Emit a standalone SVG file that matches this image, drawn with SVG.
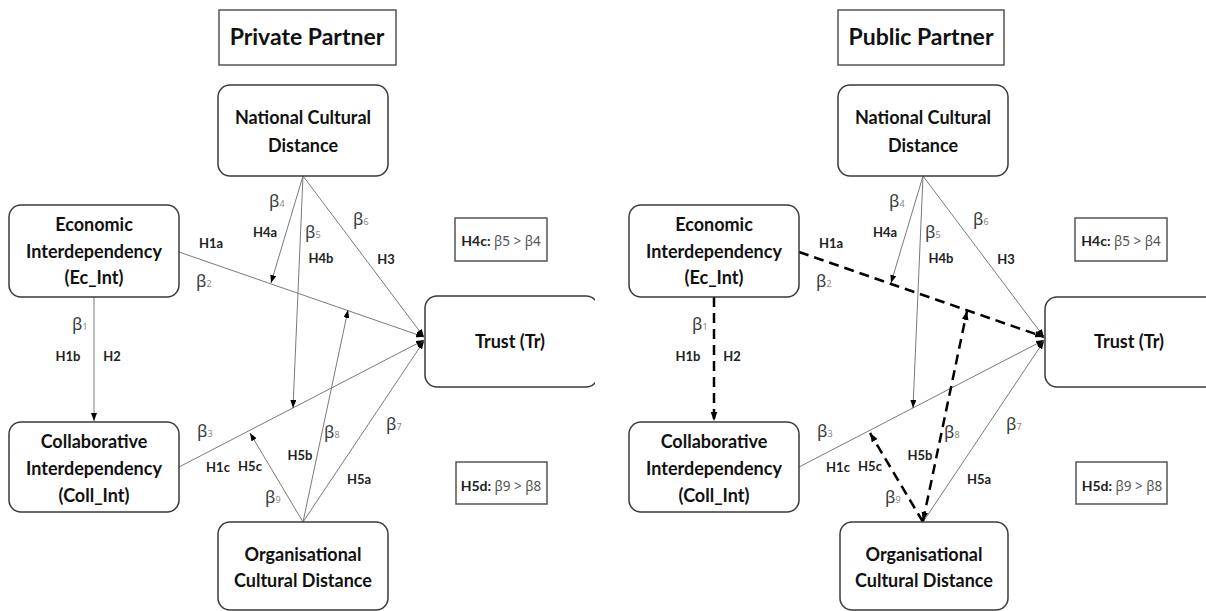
<svg xmlns="http://www.w3.org/2000/svg" width="1206" height="611" viewBox="0 0 1206 611">
<style>
.n{fill:#fff;stroke:#3a3a3a;stroke-width:1.5}
.sq{fill:#fff;stroke:#555;stroke-width:1.5}
.t{font-family:Lato,"Open Sans",sans-serif;font-weight:700;font-size:18px;fill:#111;text-anchor:middle}
.ti{font-family:Lato,"Open Sans",sans-serif;font-weight:700;font-size:23px;fill:#111;text-anchor:middle}
.h{font-family:Lato,"Open Sans",sans-serif;font-weight:700;font-size:13px;fill:#222;text-anchor:middle}
.b{font-family:"Noto Sans","DejaVu Sans",sans-serif;font-size:17px;fill:#3a3a3a}
.s{font-size:9px;fill:#888}
.c{font-family:Lato,"Open Sans",sans-serif;font-weight:700;font-size:14px;fill:#222;text-anchor:middle}
.cg{font-family:"Noto Sans","DejaVu Sans",sans-serif;font-weight:400;font-size:13.5px;fill:#555}
.thin{stroke:#7a7a7a;stroke-width:1;fill:none;marker-end:url(#a)}
.dash{stroke:#000;stroke-width:2.5;stroke-dasharray:10 6;fill:none;marker-end:url(#ad)}
</style>
<defs>
<marker id="a" viewBox="0 0 8 6" refX="8" refY="3" markerWidth="8" markerHeight="6" markerUnits="userSpaceOnUse" orient="auto"><path d="M0,0L8,3L0,6z" fill="#000"/></marker>
<marker id="ad" viewBox="0 0 8 6" refX="8" refY="3" markerWidth="9" markerHeight="7" markerUnits="userSpaceOnUse" orient="auto-start-reverse"><path d="M0,0L8,3L0,6z" fill="#000"/></marker>
<clipPath id="clipL"><rect x="0" y="0" width="595" height="611"/></clipPath>
</defs>
<rect width="1206" height="611" fill="#fff"/>

<g id="connectors">
<line class="thin" x1="94" y1="297" x2="94" y2="421"/>
<line class="thin" x1="179" y1="252" x2="424" y2="337"/>
<line class="thin" x1="179" y1="467" x2="424" y2="340"/>
<line class="thin" x1="303" y1="176" x2="271" y2="283"/>
<line class="thin" x1="303" y1="176" x2="293" y2="408"/>
<line class="thin" x1="303" y1="176" x2="424" y2="337"/>
<line class="thin" x1="303" y1="522" x2="424" y2="341"/>
<line class="thin" x1="303" y1="522" x2="348" y2="310"/>
<line class="thin" x1="303" y1="522" x2="250" y2="433"/>

<line class="dash" x1="714" y1="297" x2="714" y2="421"/>
<line class="dash" x1="799" y1="252" x2="1044" y2="337"/>
<line class="thin" x1="799" y1="467" x2="1044" y2="340"/>
<line class="thin" x1="923" y1="176" x2="891" y2="283"/>
<line class="thin" x1="923" y1="176" x2="913" y2="408"/>
<line class="thin" x1="923" y1="176" x2="1044" y2="337"/>
<line class="thin" x1="923" y1="522" x2="1044" y2="341"/>
<line class="dash" x1="923" y1="521" x2="967" y2="311" style="marker-start:url(#ad)"/>
<line class="dash" x1="923" y1="522" x2="870" y2="433"/>
</g>

<g id="labels">
<text class="h" x="211" y="248">H1a</text>
<text class="b" x="196" y="287">β<tspan class="s">2</tspan></text>
<text class="b" x="72" y="330">β<tspan class="s">1</tspan></text>
<text class="h" x="68" y="361">H1b</text>
<text class="h" x="112" y="361">H2</text>
<text class="b" x="269" y="207">β<tspan class="s">4</tspan></text>
<text class="h" x="265" y="237">H4a</text>
<text class="b" x="305" y="238">β<tspan class="s">5</tspan></text>
<text class="h" x="321" y="263">H4b</text>
<text class="b" x="353" y="225">β<tspan class="s">6</tspan></text>
<text class="h" x="386" y="264">H3</text>
<text class="b" x="197" y="437">β<tspan class="s">3</tspan></text>
<text class="h" x="218" y="472">H1c</text>
<text class="h" x="250" y="471">H5c</text>
<text class="b" x="265" y="503">β<tspan class="s">9</tspan></text>
<text class="h" x="300" y="460">H5b</text>
<text class="b" x="324" y="438">β<tspan class="s">8</tspan></text>
<text class="h" x="359" y="484">H5a</text>
<text class="b" x="386" y="430">β<tspan class="s">7</tspan></text>

<text class="h" x="831" y="248">H1a</text>
<text class="b" x="816" y="287">β<tspan class="s">2</tspan></text>
<text class="b" x="692" y="330">β<tspan class="s">1</tspan></text>
<text class="h" x="688" y="361">H1b</text>
<text class="h" x="732" y="361">H2</text>
<text class="b" x="889" y="207">β<tspan class="s">4</tspan></text>
<text class="h" x="885" y="237">H4a</text>
<text class="b" x="925" y="238">β<tspan class="s">5</tspan></text>
<text class="h" x="941" y="263">H4b</text>
<text class="b" x="973" y="225">β<tspan class="s">6</tspan></text>
<text class="h" x="1006" y="264">H3</text>
<text class="b" x="817" y="437">β<tspan class="s">3</tspan></text>
<text class="h" x="838" y="472">H1c</text>
<text class="h" x="870" y="471">H5c</text>
<text class="b" x="885" y="503">β<tspan class="s">9</tspan></text>
<text class="h" x="920" y="460">H5b</text>
<text class="b" x="944" y="438">β<tspan class="s">8</tspan></text>
<text class="h" x="979" y="484">H5a</text>
<text class="b" x="1006" y="430">β<tspan class="s">7</tspan></text>
</g>

<g id="title-private"><rect class="sq" x="219" y="10" width="177" height="55"/><text class="ti" x="307" y="45">Private Partner</text></g>
<g id="ncd-private"><rect class="n" x="218" y="85" width="170" height="91" rx="12"/><text class="t" x="303" y="124">National Cultural</text><text class="t" x="303" y="152">Distance</text></g>
<g id="econ-private"><rect class="n" x="9" y="205" width="170" height="92" rx="12"/><text class="t" x="94" y="231">Economic</text><text class="t" x="94" y="258">Interdependency</text><text class="t" x="94" y="284">(Ec_Int)</text></g>
<g id="coll-private"><rect class="n" x="9" y="422" width="170" height="90" rx="12"/><text class="t" x="94" y="448">Collaborative</text><text class="t" x="94" y="475">Interdependency</text><text class="t" x="94" y="502">(Coll_Int)</text></g>
<g id="trust-private" clip-path="url(#clipL)"><rect class="n" x="425" y="296" width="173" height="91" rx="12"/><text class="t" x="510" y="348">Trust (Tr)</text></g>
<g id="ocd-private"><rect class="n" x="218" y="522" width="170" height="88" rx="12"/><text class="t" x="303" y="561">Organisational</text><text class="t" x="303" y="587">Cultural Distance</text></g>
<g id="h4c-private"><rect class="sq" x="455" y="218" width="92" height="43"/><text class="c" x="501" y="246">H4c: <tspan class="cg">β5 &gt; β4</tspan></text></g>
<g id="h5d-private"><rect class="sq" x="456" y="462" width="91" height="42"/><text class="c" x="501" y="491">H5d: <tspan class="cg">β9 &gt; β8</tspan></text></g>

<g id="title-public"><rect class="sq" x="838" y="10" width="166" height="55"/><text class="ti" x="921" y="45">Public Partner</text></g>
<g id="ncd-public"><rect class="n" x="838" y="85" width="170" height="91" rx="12"/><text class="t" x="923" y="124">National Cultural</text><text class="t" x="923" y="152">Distance</text></g>
<g id="econ-public"><rect class="n" x="629" y="205" width="170" height="92" rx="12"/><text class="t" x="714" y="231">Economic</text><text class="t" x="714" y="258">Interdependency</text><text class="t" x="714" y="284">(Ec_Int)</text></g>
<g id="coll-public"><rect class="n" x="629" y="422" width="170" height="90" rx="12"/><text class="t" x="714" y="448">Collaborative</text><text class="t" x="714" y="475">Interdependency</text><text class="t" x="714" y="502">(Coll_Int)</text></g>
<g id="trust-public"><rect class="n" x="1045" y="297" width="172" height="90" rx="12"/><text class="t" x="1129" y="348">Trust (Tr)</text></g>
<g id="ocd-public"><rect class="n" x="840" y="522" width="168" height="88" rx="12"/><text class="t" x="924" y="561">Organisational</text><text class="t" x="924" y="587">Cultural Distance</text></g>
<g id="h4c-public"><rect class="sq" x="1075" y="218" width="92" height="43"/><text class="c" x="1121" y="246">H4c: <tspan class="cg">β5 &gt; β4</tspan></text></g>
<g id="h5d-public"><rect class="sq" x="1076" y="462" width="91" height="42"/><text class="c" x="1122" y="491">H5d: <tspan class="cg">β9 &gt; β8</tspan></text></g>
</svg>
